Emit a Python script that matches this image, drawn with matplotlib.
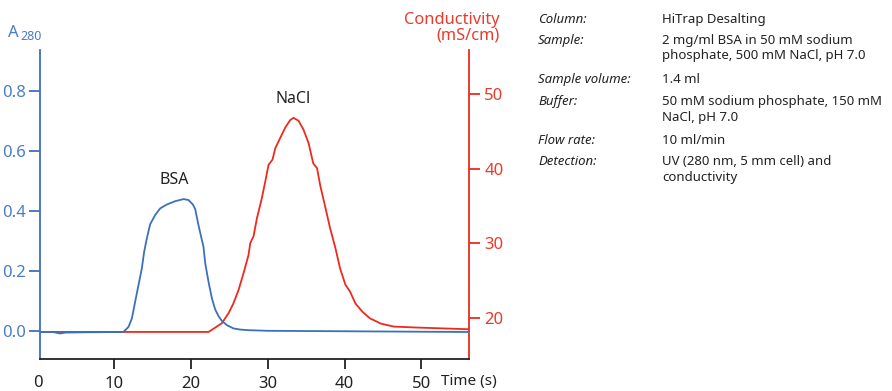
import matplotlib
matplotlib.use("Agg")
import matplotlib.pyplot as plt
import numpy as np

plt.rcParams['font.family'] = ['Noto Sans', 'DejaVu Sans']

BLUE = '#3b70bd'
BLUE_TXT = '#4a7dc6'
RED = '#ee2a1c'
RED_TXT = '#ea3a2a'
DARK = '#222222'

# A280 trace (time in s, absorbance)
bsa_t = [0.5, 2.0, 2.9, 3.6, 6.0, 11.17, 11.83, 12.27, 12.7, 13.13, 13.57, 13.87, 14.22,
         14.65, 15.31, 15.96, 16.83, 17.91, 19.0, 19.65, 20.22, 20.52, 20.95, 21.4, 21.6,
         21.83, 22.26, 22.7, 23.13, 23.56, 24.0, 24.65, 25.5, 26.4, 27.5, 30.0, 56.2]
bsa_a = [-0.003, -0.003, -0.008, -0.005, -0.004, -0.003, 0.014, 0.042, 0.098, 0.153, 0.209,
         0.264, 0.309, 0.356, 0.387, 0.409, 0.422, 0.433, 0.44, 0.437, 0.422, 0.407, 0.353,
         0.303, 0.281, 0.226, 0.164, 0.109, 0.072, 0.05, 0.034, 0.02, 0.009, 0.005, 0.003,
         0.001, -0.003]

# Conductivity trace (time in s, mS/cm)
nacl_t = [0.5, 22.26, 23.13, 24.0, 24.87, 25.5, 26.17, 26.82, 27.47, 27.7, 28.12, 28.56,
          29.2, 29.65, 30.08, 30.6, 30.95, 31.6, 32.26, 32.9, 33.34, 34.0, 34.64, 35.3,
          35.9, 36.4, 36.8, 37.5, 38.1, 38.8, 39.4, 40.1, 40.7, 41.4, 42.3, 43.3, 44.0,
          44.7, 46.4, 49.4, 56.2]
nacl_c = [18.08, 18.08, 18.66, 19.25, 20.6, 21.9, 23.7, 25.96, 28.4, 30.0, 30.9, 33.3,
          36.0, 38.25, 40.5, 41.2, 42.7, 44.1, 45.5, 46.5, 46.8, 46.4, 45.2, 43.4, 40.7,
          40.05, 37.8, 34.7, 32.0, 29.3, 26.6, 24.4, 23.5, 21.9, 20.8, 19.9, 19.56, 19.2,
          18.8, 18.67, 18.44]

x_ticks = [0, 10, 20, 30, 40, 50]
a_ticks = [0.0, 0.2, 0.4, 0.6, 0.8]
c_ticks = [20, 30, 40, 50]

labels = ['Column:', 'Sample:', 'Sample volume:', 'Buffer:', 'Flow rate:', 'Detection:']
values = ['HiTrap Desalting',
          '2 mg/ml BSA in 50 mM sodium\nphosphate, 500 mM NaCl, pH 7.0',
          '1.4 ml',
          '50 mM sodium phosphate, 150 mM\nNaCl, pH 7.0',
          '10 ml/min',
          'UV (280 nm, 5 mm cell) and\nconductivity']
row_y = [13, 34, 73, 95, 134, 155]

fig = plt.figure(figsize=(8.92, 3.91), dpi=100)
ax = fig.add_axes([40 / 892, 32 / 391, 429 / 892, 309 / 391])
ax2 = ax.twinx()

ax.plot(bsa_t, bsa_a, color=BLUE, lw=1.3)
ax2.plot(nacl_t, nacl_c, color=RED, lw=1.3)
ax.set_zorder(ax2.get_zorder() + 1)
ax.patch.set_visible(False)

ax.set_xlim(0.3, 56.2)
ax.set_ylim(-0.093, 0.937)
ax2.set_ylim(14.45, 55.9)

ax.set_xticks(x_ticks[1:])
ax.set_yticks(a_ticks)
ax.set_yticklabels(['%.1f' % v for v in a_ticks])
ax2.set_yticks(c_ticks)

ax.spines['top'].set_visible(False)
ax2.spines['top'].set_visible(False)
ax.spines['right'].set_visible(False)
ax2.spines['left'].set_visible(False)
ax2.spines['bottom'].set_visible(False)
ax.spines['left'].set_color(BLUE)
ax2.spines['right'].set_color(RED)
ax.spines['bottom'].set_color(DARK)
for sp in [ax.spines['left'], ax.spines['bottom'], ax2.spines['right']]:
    sp.set_linewidth(1.3)

ax.tick_params(axis='y', colors=BLUE, labelcolor=BLUE_TXT, length=8, width=1.3,
               labelsize=12, pad=2)
ax.tick_params(axis='x', colors=DARK, length=7, width=1.3, labelsize=12, pad=5.5)
ax2.tick_params(axis='y', colors=RED, labelcolor=RED_TXT, length=8, width=1.3,
                labelsize=12, pad=3)

# the "0" sits just under the left spine, without a tick
ax.text(x_ticks[0], -0.053, '0', transform=ax.get_xaxis_transform(), color=DARK,
        fontsize=12, ha='center', va='top')

fig.text(8 / 892, 1 - 33 / 391, 'A', color=BLUE_TXT, fontsize=12, va='center')
fig.text(20 / 892, 1 - 37 / 391, '280', color=BLUE_TXT, fontsize=9, va='center')
fig.text(500 / 892, 1 - 28 / 391, 'Conductivity\n(mS/cm)', color=RED_TXT, fontsize=11.8,
         ha='right', va='center', linespacing=0.95)
fig.text(497 / 892, 1 - 382 / 391, 'Time (s)', color=DARK, fontsize=11, ha='right',
         va='center')

ax.text(33.3, 0.773, 'NaCl', color=DARK, fontsize=11.5, ha='center', va='center')
ax.text(17.8, 0.503, 'BSA', color=DARK, fontsize=11.5, ha='center', va='center')

for lab, val, y in zip(labels, values, row_y):
    fig.text(538 / 892, 1 - y / 391, lab, color=DARK, fontsize=9.5, style='italic',
             va='top')
    fig.text(662 / 892, 1 - y / 391, val, color=DARK, fontsize=9.5, va='top',
             linespacing=1.25)

fig.savefig('out.png', dpi=100)
